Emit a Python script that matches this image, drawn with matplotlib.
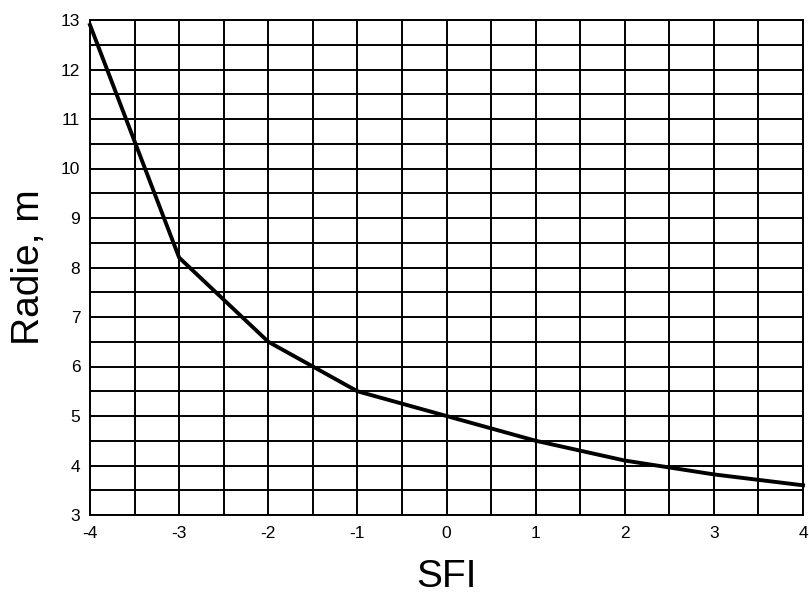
import matplotlib
matplotlib.use("Agg")
import matplotlib.pyplot as plt
import numpy as np

sfi = [-4, -3, -2, -1, 0, 1, 2, 3, 4]
radie = [12.9, 8.2, 6.5, 5.5, 5.0, 4.5, 4.1, 3.82, 3.6]
xticks = [-4, -3, -2, -1, 0, 1, 2, 3, 4]
yticks = [3, 4, 5, 6, 7, 8, 9, 10, 11, 12, 13]

plt.rcParams['font.family'] = ['Liberation Sans', 'DejaVu Sans']
fig = plt.figure(figsize=(8.09, 5.96), dpi=100)
ax = fig.add_axes([90/809, 1-515/596, (803-90)/809, (515-20)/596])
ax.plot(sfi, radie, color='black', lw=2.8, solid_joinstyle='miter', zorder=3, clip_on=False)
ax.set_xlim(-4, 4)
ax.set_ylim(3, 13)
ax.set_xticks(xticks)
ax.set_yticks(yticks)
ax.set_xticklabels(['-4', '-3', '-2', '-1', '0', '1', '2', '3', '4'])
ax.set_xticks(np.arange(-4, 4.01, 0.5), minor=True)
ax.set_yticks(np.arange(3, 13.01, 0.5), minor=True)
ax.grid(True, which='both', color='black', lw=1.4)
ax.tick_params(which='both', length=0, labelsize=12.5, colors='black')
ax.tick_params(axis='x', pad=8)
ax.tick_params(axis='y', pad=7)
for s in ax.spines.values():
    s.set_color('black'); s.set_linewidth(1.4)
ax.set_xlabel('SFI', fontsize=28, labelpad=13)
ax.set_ylabel('Radie, m', fontsize=28, labelpad=10)
fig.savefig('out.png', dpi=100)
